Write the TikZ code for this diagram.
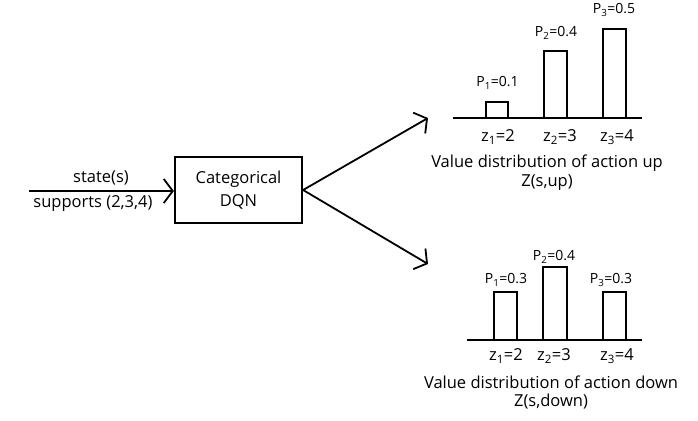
\documentclass[tikz,border=0pt]{standalone}
\usepackage{fontspec}
\setmainfont{Open Sans}
\usetikzlibrary{arrows.meta}
\begin{document}
\begin{tikzpicture}[x=1pt,y=-1pt,
  lbl/.style={inner sep=0pt, font=\fontsize{16.5}{19}\selectfont},
  plbl/.style={inner sep=0pt, font=\fontsize{14}{16}\selectfont},
  bar/.style={draw, line width=2.2pt, fill=white},
  base/.style={line width=1.6pt},
  conn/.style={line width=1.8pt, -{Straight Barb[length=9pt,width=24pt,line width=1.8pt]}}]
\useasboundingbox (0,0) rectangle (698,420);
% input
\coordinate (in) at (29,191);
\node[draw, line width=2.2pt, minimum width=127pt, minimum height=66pt, inner sep=0pt,
  align=center, font=\fontsize{16.5}{23}\selectfont] (dqn) at (238.5,190) {Categorical\\DQN};
\draw[conn] (in) -- (dqn.west |- in);
\node[lbl] (st) at (101,178) {state(s)};
\node[lbl] (sp) at (93,204) {supports (2,3,4)};
% arrows out
\coordinate (up) at (428,118);
\coordinate (dn) at (428,264);
\draw[conn] (dqn.east) -- (up);
\draw[conn] (dqn.east) -- (dn);
% top chart
\coordinate (ta) at (453,118);
\coordinate (tb) at (642,118);
\draw[base] (ta) -- (tb);
\draw[bar] (486,118) rectangle (508,102);
\draw[bar] (544,118) rectangle (567,51);
\draw[bar] (603,118) rectangle (626,29);
\node[plbl] (tp1) at (497.5,83) {P\textsubscript{1}=0.1};
\node[plbl] (tp2) at (556,33) {P\textsubscript{2}=0.4};
\node[plbl] (tp3) at (614,10) {P\textsubscript{3}=0.5};
\node[lbl] (tz1) at (498,137) {z\textsubscript{1}=2};
\node[lbl] (tz2) at (560,137) {z\textsubscript{2}=3};
\node[lbl] (tz3) at (617,137) {z\textsubscript{3}=4};
\node[lbl] (tt1) at (547,163) {Value distribution of action up};
\node[lbl] (tt2) at (547,183) {Z(s,up)};
% bottom chart
\coordinate (ba) at (467,340);
\coordinate (bb) at (642,340);
\draw[base] (ba) -- (bb);
\draw[bar] (494,340) rectangle (517,292);
\draw[bar] (543,340) rectangle (567,267);
\draw[bar] (603,340) rectangle (626,292);
\node[plbl] (bp1) at (506,280) {P\textsubscript{1}=0.3};
\node[plbl] (bp2) at (554,257) {P\textsubscript{2}=0.4};
\node[plbl] (bp3) at (611,280) {P\textsubscript{3}=0.3};
\node[lbl] (bz1) at (506,356) {z\textsubscript{1}=2};
\node[lbl] (bz2) at (554,356) {z\textsubscript{2}=3};
\node[lbl] (bz3) at (617,356) {z\textsubscript{3}=4};
\node[lbl] (bt1) at (551,382) {Value distribution of action down};
\node[lbl] (bt2) at (551,402) {Z(s,down)};
\end{tikzpicture}
\end{document}
